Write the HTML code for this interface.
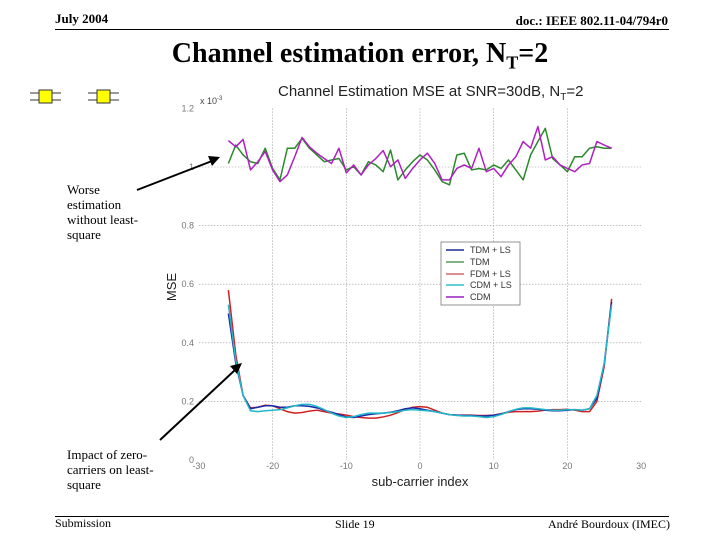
<!DOCTYPE html>
<html><head><meta charset="utf-8"><style>
body{margin:0;width:720px;height:540px;background:#fff;overflow:hidden;position:relative;font-family:"Liberation Serif",serif}
.a{position:absolute;margin:0;white-space:nowrap}
</style></head><body>
<div class="a" style="left:55px;top:11px;font-size:13px;font-weight:bold">July 2004</div>
<div class="a" style="right:52px;top:13px;font-size:13px;font-weight:bold">doc.: IEEE 802.11-04/794r0</div>
<div class="a" style="left:55px;top:29px;width:614px;height:1px;background:#000"></div>
<div class="a" style="left:0;width:720px;text-align:center;top:38px;font-size:28px;font-weight:bold">Channel estimation error, N<sub style="font-size:18px">T</sub>=2</div>
<div class="a" style="left:67px;top:182px;font-size:13px;line-height:15px;white-space:normal;width:85px">Worse estimation without least-square</div>
<div class="a" style="left:67px;top:447px;font-size:13px;line-height:15px;white-space:normal;width:100px">Impact of zero-carriers on least-square</div>
<div class="a" style="left:55px;top:516px;width:614px;height:1px;background:#000"></div>
<div class="a" style="left:55px;top:516px;font-size:12px">Submission</div>
<div class="a" style="left:335px;top:517px;font-size:12px">Slide 19</div>
<div class="a" style="right:50px;top:517px;font-size:12px">André Bourdoux (IMEC)</div>
<svg class="a" style="left:0;top:0" width="720" height="540">
<g fill="#ff0" stroke="#333">
<rect x="39" y="90" width="13" height="13"/><rect x="97" y="90" width="13" height="13"/>
<path d="M30 93h9M30 100h9M52 93h9M52 100h9M88 93h9M88 100h9M110 93h9M110 100h9" fill="none"/>
</g>
<g id="grid"></g>
<g id="series"></g>
<g id="ticks" font-family="Liberation Sans,sans-serif" font-size="9" fill="#777"></g>
<text x="278" y="96" font-family="Liberation Sans,sans-serif" font-size="15" fill="#222">Channel Estimation MSE at SNR=30dB, N<tspan font-size="10" dy="4">T</tspan><tspan dy="-4">=2</tspan></text>
<text x="200" y="104" font-family="Liberation Sans,sans-serif" font-size="9" fill="#444">x 10<tspan font-size="6" dy="-4">-3</tspan></text>
<text transform="translate(176,287) rotate(-90)" text-anchor="middle" font-family="Liberation Sans,sans-serif" font-size="13" fill="#222">MSE</text>
<text x="420" y="486" text-anchor="middle" font-family="Liberation Sans,sans-serif" font-size="13" fill="#222">sub-carrier index</text>
<g font-family="Liberation Sans,sans-serif" font-size="9" fill="#333">
<rect x="441" y="242" width="79" height="63" fill="#fff" stroke="#666" stroke-width="0.7"/>
<line x1="446" y1="250" x2="464" y2="250" stroke="#1a2a9a" stroke-width="1.5"/><text x="470" y="253">TDM + LS</text>
<line x1="446" y1="262" x2="464" y2="262" stroke="#5a9a5a" stroke-width="1.5"/><text x="470" y="265">TDM</text>
<line x1="446" y1="274" x2="464" y2="274" stroke="#d06a6a" stroke-width="1.5"/><text x="470" y="277">FDM + LS</text>
<line x1="446" y1="285" x2="464" y2="285" stroke="#30c0c8" stroke-width="1.5"/><text x="470" y="288">CDM + LS</text>
<line x1="446" y1="297" x2="464" y2="297" stroke="#9a20c0" stroke-width="1.5"/><text x="470" y="300">CDM</text>
</g>
<g stroke="#000" stroke-width="2">
<line x1="137" y1="190" x2="212" y2="161"/><polygon points="220,157 208,156 212,166" fill="#000" stroke="none"/>
<line x1="160" y1="440" x2="235" y2="370"/><polygon points="242,363 230,366 237,374" fill="#000" stroke="none"/>
</g>
</svg>
<script>
const subcarriers=[];for(let k=-26;k<=26;k++)subcarriers.push(k);
const tdm=[1.012,1.075,1.041,1.018,1.012,1.064,0.995,0.956,1.064,1.064,1.098,1.064,1.041,1.018,1.024,1.029,0.990,1.001,0.973,1.018,1.007,0.984,1.058,0.956,0.990,1.018,1.041,1.024,0.990,0.950,0.939,1.041,1.047,0.990,0.995,0.990,1.007,0.995,1.024,0.990,0.956,1.041,1.087,1.132,1.029,1.007,0.984,1.035,1.035,1.064,1.069,1.064,1.064];
const cdm=[1.090,1.069,1.094,0.990,1.018,1.053,0.990,0.950,0.973,1.035,1.101,1.069,1.047,1.029,1.012,1.064,0.980,1.007,0.973,1.007,1.029,1.056,1.001,1.024,0.961,0.995,1.024,1.047,1.012,0.956,0.956,0.995,1.007,0.995,1.064,0.984,0.995,0.967,1.007,1.035,1.087,1.064,1.138,1.024,1.035,1.007,0.995,0.984,1.007,1.012,1.087,1.075,1.064];
const tdmLs=[0.50,0.33,0.22,0.175,0.18,0.185,0.185,0.18,0.18,0.185,0.185,0.183,0.178,0.17,0.163,0.155,0.147,0.145,0.15,0.155,0.158,0.16,0.163,0.168,0.175,0.178,0.175,0.17,0.165,0.16,0.155,0.153,0.152,0.152,0.15,0.15,0.153,0.157,0.165,0.172,0.175,0.175,0.173,0.17,0.168,0.168,0.17,0.172,0.17,0.175,0.21,0.33,0.54];
const fdmLs=[0.58,0.36,0.22,0.178,0.18,0.187,0.185,0.175,0.165,0.16,0.162,0.167,0.17,0.165,0.16,0.157,0.153,0.148,0.145,0.143,0.143,0.147,0.153,0.162,0.172,0.18,0.182,0.18,0.17,0.16,0.155,0.153,0.153,0.153,0.152,0.152,0.153,0.158,0.163,0.165,0.165,0.165,0.167,0.17,0.172,0.172,0.173,0.17,0.165,0.165,0.2,0.32,0.55];
const cdmLs=[0.53,0.34,0.22,0.168,0.165,0.168,0.17,0.172,0.178,0.185,0.19,0.19,0.183,0.172,0.16,0.15,0.145,0.148,0.155,0.16,0.16,0.16,0.162,0.165,0.17,0.172,0.17,0.168,0.165,0.16,0.155,0.152,0.15,0.15,0.148,0.145,0.148,0.155,0.165,0.173,0.178,0.178,0.175,0.172,0.17,0.17,0.172,0.172,0.17,0.175,0.22,0.33,0.53];
const xTicks=[-30,-20,-10,0,10,20,30];
const yTicks=[0,0.2,0.4,0.6,0.8,1,1.2];
const yTickLabels=["0","0.2","0.4","0.6","0.8","1","1.2"];
const X=v=>420+v*7.37, Y=v=>460-v*293;
const NS='http://www.w3.org/2000/svg';
function mk(t,a,p){const e=document.createElementNS(NS,t);for(const k in a)e.setAttribute(k,a[k]);p.appendChild(e);return e;}
const grid=document.getElementById('grid'),ticks=document.getElementById('ticks'),ser=document.getElementById('series');
xTicks.forEach(v=>{if(v>-30&&v<30){const l=mk('line',{x1:X(v),x2:X(v),y1:Y(1.2),y2:Y(0),stroke:'#999','stroke-width':0.6,'stroke-dasharray':'1.5,1.5'},grid);

}
const t=mk('text',{x:X(v),y:469,'text-anchor':'middle'},ticks);t.textContent=v;

});
yTicks.forEach((v,i)=>{if(v>0&&v<1.2){const l=mk('line',{x1:X(-30),x2:X(30),y1:Y(v),y2:Y(v),stroke:'#999','stroke-width':0.6,'stroke-dasharray':'1.5,1.5'},grid);

}
const t=mk('text',{x:194,y:Y(v)+3,'text-anchor':'end'},ticks);t.textContent=yTickLabels[i];

});
function line(arr,col,name){const p=mk('polyline',{points:arr.map((v,i)=>X(subcarriers[i])+','+Y(v)).join(' '),fill:'none',stroke:col,'stroke-width':1.5,'stroke-linejoin':'round'},ser);

}
line(tdm,'#2a8a2a','series-tdm');
line(cdm,'#b020c0','series-cdm');
line(fdmLs,'#d02020','series-fdm-ls');
line(tdmLs,'#1a2aaa','series-tdm-ls');
line(cdmLs,'#20b8c8','series-cdm-ls');
</script>
</body></html>
